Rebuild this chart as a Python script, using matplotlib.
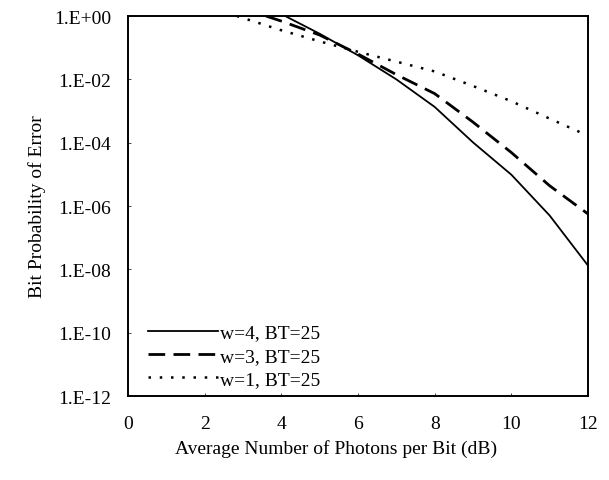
import numpy as np
import matplotlib
matplotlib.use('Agg')
import matplotlib.pyplot as plt

plt.rcParams['font.family'] = ['Liberation Serif', 'DejaVu Serif']

## DATA (log10 of bit error probability) ##
x_w4 = [4.1, 5, 6, 7, 8, 9, 10, 11, 12]
log_w4 = [0.0, -0.56, -1.24, -2.0, -2.87, -3.99, -5.01, -6.3, -7.88]

x_w3 = [3.6, 4, 5, 6, 7, 8, 9, 10, 11, 12]
log_w3 = [0.0, -0.16, -0.6, -1.2, -1.85, -2.45, -3.35, -4.31, -5.36, -6.25]

x_w1 = [2.84, 4, 5, 6, 7, 8, 9, 10, 11, 12]
log_w1 = [0.0, -0.45, -0.8, -1.13, -1.44, -1.75, -2.21, -2.69, -3.24, -3.78]

labels = ['w=4, BT=25', 'w=3, BT=25', 'w=1, BT=25']
xticks = [0, 2, 4, 6, 8, 10, 12]
yexps = [0, -2, -4, -6, -8, -10, -12]

fs = 14

fig = plt.figure(figsize=(6.09, 4.81), dpi=100)
ax = fig.add_axes([0.2102, 0.1746, 0.7553, 0.790])

ax.plot(x_w4, 10.0 ** np.array(log_w4), color='black', lw=1.3, label=labels[0])
ax.plot(x_w3, 10.0 ** np.array(log_w3), color='black', lw=2.0,
        dashes=(6, 3), label=labels[1])
ax.plot(x_w1, 10.0 ** np.array(log_w1), color='black', lw=1.8,
        dashes=(1, 3.5), label=labels[2])

ax.set_yscale('log')
ax.set_xlim(0, 12)
ax.set_ylim(1e-12, 1)
ax.set_xticks(xticks)
ax.set_xticklabels([str(t) for t in xticks])
ax.set_yticks([10.0 ** e for e in yexps])
ax.set_yticklabels(['1.E+00' if e == 0 else '1.E-%02d' % (-e) for e in yexps])
ax.minorticks_off()
ax.tick_params(direction='in', length=2, width=0.5, labelsize=fs)
ax.tick_params(axis='y', pad=12)
ax.tick_params(axis='x', pad=14)

for s in ax.spines.values():
    s.set_linewidth(1.4)

# the x label sits a little left of the axes centre in the original
ax.set_xlabel('Average Number of Photons per Bit (dB)', fontsize=fs,
              labelpad=5, x=0.453)
ax.set_ylabel('Bit Probability of Error', fontsize=fs, labelpad=6)

ax.legend(loc='lower left', bbox_to_anchor=(0.0265, 0.0), borderaxespad=0.0,
          frameon=False, fontsize=fs, handlelength=3.6, handletextpad=0.1,
          labelspacing=0.3)

fig.savefig('out.png', dpi=100)
